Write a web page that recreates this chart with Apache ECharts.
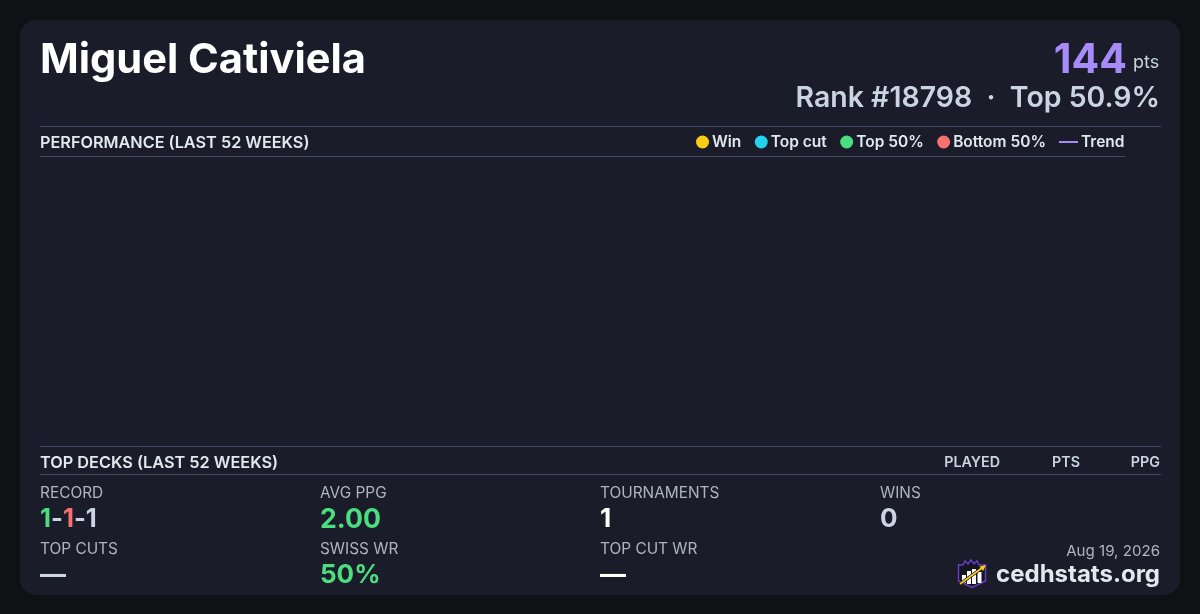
<!DOCTYPE html>
<html><head><meta charset="utf-8">
<style>html,body{margin:0;padding:0;background:#0f1115;width:1200px;height:614px;overflow:hidden}#c{width:1200px;height:614px}</style>
<script src="https://cdn.jsdelivr.net/npm/echarts@6/dist/echarts.min.js"></script>
</head><body><div id="c"></div>
<script>
const playerName = "Miguel Cativiela";
const points = "144";
const rankLine = "Rank #18798  ·  Top 50.9%";
const markerNames = ["Win", "Top cut", "Top 50%", "Bottom 50%"];
const markerColors = ["#facc15", "#22d3ee", "#4ade80", "#f87171"];
const trendName = "Trend";
const weeks = [];
const trendValues = [];
const deckColumns = ["PLAYED", "PTS", "PPG"];
const statLabels = ["RECORD", "AVG PPG", "TOURNAMENTS", "WINS", "TOP CUTS", "SWISS WR", "TOP CUT WR"];
const statValues = ["", "2.00", "1", "0", "—", "50%", "—"];
const font = "Inter";
const chart = echarts.init(document.getElementById('c'), null, {renderer:'canvas'});

const t = (x,y,text,size,weight,fill,align) => ({type:'text',x,y,silent:true,style:{text,font:`${weight} ${size}px ${font}`,fill,align:align||'left',verticalAlign:'middle'}});
const rule = (x1,x2,y) => ({type:'rect',shape:{x:x1,y:y,width:x2-x1,height:1},style:{fill:'#3f4a63'},silent:true});

const elems = [
  {type:'rect',shape:{x:20,y:20,width:1160,height:575,r:16},style:{fill:'#1a1d29'},silent:true},
  t(40,60,playerName,41.6,700,'#ffffff'),
  t(1127,61,points,41,700,'#a78bfa','right'),
  t(1133,63,'pts',18,400,'#cbd5e1'),
  t(1160,98,rankLine,28.45,600,'#cbd5e1','right'),
  rule(40,1161,126), rule(40,1125,156), rule(40,1161,446), rule(40,1161,474),
  t(40,143,'PERFORMANCE (LAST 52 WEEKS)',16.25,600,'#e2e8f0'),
  t(40,463,'TOP DECKS (LAST 52 WEEKS)',16.3,600,'#e2e8f0'),
  t(1000,463,deckColumns[0],14.3,600,'#cbd5e1','right'),
  t(1080,463,deckColumns[1],14.3,600,'#cbd5e1','right'),
  t(1160,463,deckColumns[2],14.3,600,'#cbd5e1','right'),
  t(1160,551,'Aug 19, 2026',15.1,400,'#aeb4c0','right'),
  t(1160,575,'cedhstats.org',24,700,'#e2e8f0','right'),
  {type:'text',x:40,y:519.5,silent:true,style:{
    text:'{g|1}{s|-}{r|1}{s|-}{s|1}',verticalAlign:'middle',
    rich:{g:{font:`700 25.5px ${font}`,fill:'#4ade80'},r:{font:`700 25.5px ${font}`,fill:'#f87171'},s:{font:`700 25.5px ${font}`,fill:'#cbd5e1'}}}},
  // logo
  {type:'polygon',silent:true,shape:{points:[[958.5,565],[963,565],[965,561],[968,564],[971,560],[974,564],[977,561],[979,565],[985.5,565],[985.5,581],[972,587.5],[958.5,581]]},style:{fill:'#14161f',stroke:'#6d3fc8',lineWidth:1.4}},
  {type:'rect',silent:true,shape:{x:962,y:575,width:4,height:8},style:{fill:'#fff'}},
  {type:'rect',silent:true,shape:{x:967,y:571,width:4,height:13},style:{fill:'#fff'}},
  {type:'rect',silent:true,shape:{x:972,y:569,width:4,height:15},style:{fill:'#fff'}},
  {type:'rect',silent:true,shape:{x:977.5,y:572,width:4,height:11},style:{fill:'#fff'}},
  {type:'line',silent:true,shape:{x1:960,y1:584,x2:984,y2:566.5},style:{stroke:'#14161f',lineWidth:3.4}},
  {type:'line',silent:true,shape:{x1:960,y1:584,x2:984,y2:566.5},style:{stroke:'#facc15',lineWidth:1.7}},
  {type:'polygon',silent:true,shape:{points:[[986,565],[979.5,566.5],[983,571]]},style:{fill:'#facc15'}}
];
const xs=[40,320,600,880], ysL=[493,549], ysV=[519.5,575.5];
const valueSize = {"2.00":26.7, "50%":26, "—":26, "1":26, "0":26};
statLabels.forEach((l,i)=>{
  const col=i%4,row=i<4?0:1;
  elems.push(t(xs[col],ysL[row],l,15.4,400,'#aeb4c0'));
  if(statValues[i]){
    const fill = l==='AVG PPG'||l==='SWISS WR' ? '#4ade80' : l==='TOURNAMENTS'||l==='TOP CUT WR' ? '#ffffff' : '#cbd5e1';
    elems.push(t(xs[col],ysV[row],statValues[i],valueSize[statValues[i]],700,fill));
  }
});

const legendText = {color:'#e2e8f0',fontFamily:font,fontSize:15.5,fontWeight:600,padding:[0,0,0,-2]};
chart.setOption({
  animation:false,
  backgroundColor:'transparent',
  grid:{left:40,right:75,top:157,height:288,show:false},
  xAxis:{type:'category',data:weeks,show:false},
  yAxis:{type:'value',show:false},
  legend:[
    {data:markerNames,left:691,top:129,itemWidth:13,itemHeight:13,itemGap:13.4,icon:'circle',selectedMode:false,textStyle:legendText},
    {data:[{name:trendName,icon:'rect'}],left:1054,top:129,itemWidth:19,itemHeight:2,selectedMode:false,textStyle:legendText}
  ],
  series:[
    ...markerNames.map((n,i)=>({name:n,type:'scatter',data:[],itemStyle:{color:markerColors[i],opacity:1}})),
    {name:trendName,type:'line',data:trendValues,showSymbol:false,symbol:'none',lineStyle:{color:'#a78bfa',width:2},itemStyle:{color:'#a78bfa'}}
  ],
  graphic:{elements:elems.map(e=>Object.assign({z:-1},e))}
});
</script></body></html>
